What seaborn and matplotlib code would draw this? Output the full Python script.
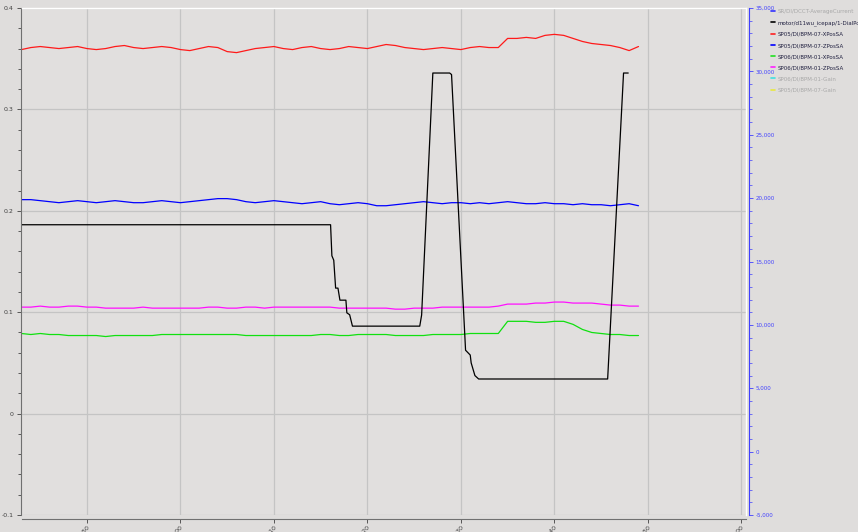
import numpy as np
import matplotlib
matplotlib.use("Agg")
import matplotlib.pyplot as plt
import seaborn as sns
from matplotlib.lines import Line2D
from matplotlib.ticker import MultipleLocator, FuncFormatter

sns.set_style("ticks")
plt.rcParams['font.family'] = ['DejaVu Sans']

# --- data ---
# BPM signals, one sample per second (seconds from the first tick)
t = np.arange(-7, 60)

bpm07_x = [0.359, 0.361, 0.362, 0.361, 0.360, 0.361, 0.362,
           0.360, 0.359, 0.360, 0.362, 0.363, 0.361, 0.360, 0.361, 0.362, 0.361,
           0.359, 0.358, 0.360, 0.362, 0.361, 0.357, 0.356, 0.358, 0.360, 0.361,
           0.362, 0.360, 0.359, 0.361, 0.362, 0.360, 0.359, 0.360, 0.362, 0.361,
           0.360, 0.362, 0.364, 0.363, 0.361, 0.360, 0.359, 0.360, 0.361, 0.360,
           0.359, 0.361, 0.362, 0.361, 0.361, 0.370, 0.370, 0.371, 0.370, 0.373,
           0.374, 0.373, 0.370, 0.367, 0.365, 0.364, 0.363, 0.361, 0.358, 0.362]

bpm07_z = [0.211, 0.211, 0.210, 0.209, 0.208, 0.209, 0.210,
           0.209, 0.208, 0.209, 0.210, 0.209, 0.208, 0.208, 0.209, 0.210, 0.209,
           0.208, 0.209, 0.210, 0.211, 0.212, 0.212, 0.211, 0.209, 0.208, 0.209,
           0.210, 0.209, 0.208, 0.207, 0.208, 0.209, 0.207, 0.206, 0.207, 0.208,
           0.207, 0.205, 0.205, 0.206, 0.207, 0.208, 0.209, 0.208, 0.207, 0.208,
           0.208, 0.207, 0.208, 0.207, 0.208, 0.209, 0.208, 0.207, 0.207, 0.208,
           0.207, 0.207, 0.206, 0.207, 0.206, 0.206, 0.205, 0.206, 0.207, 0.205]

bpm01_x = [0.079, 0.078, 0.079, 0.078, 0.078, 0.077, 0.077,
           0.077, 0.077, 0.076, 0.077, 0.077, 0.077, 0.077, 0.077, 0.078, 0.078,
           0.078, 0.078, 0.078, 0.078, 0.078, 0.078, 0.078, 0.077, 0.077, 0.077,
           0.077, 0.077, 0.077, 0.077, 0.077, 0.078, 0.078, 0.077, 0.077, 0.078,
           0.078, 0.078, 0.078, 0.077, 0.077, 0.077, 0.077, 0.078, 0.078, 0.078,
           0.078, 0.079, 0.079, 0.079, 0.079, 0.091, 0.091, 0.091, 0.090, 0.090,
           0.091, 0.091, 0.088, 0.083, 0.080, 0.079, 0.078, 0.078, 0.077, 0.077]

bpm01_z = [0.105, 0.105, 0.106, 0.105, 0.105, 0.106, 0.106,
           0.105, 0.105, 0.104, 0.104, 0.104, 0.104, 0.105, 0.104, 0.104, 0.104,
           0.104, 0.104, 0.104, 0.105, 0.105, 0.104, 0.104, 0.105, 0.105, 0.104,
           0.105, 0.105, 0.105, 0.105, 0.105, 0.105, 0.105, 0.104, 0.104, 0.104,
           0.104, 0.104, 0.104, 0.103, 0.103, 0.104, 0.104, 0.104, 0.105, 0.105,
           0.105, 0.105, 0.105, 0.105, 0.106, 0.108, 0.108, 0.108, 0.109, 0.109,
           0.110, 0.110, 0.109, 0.109, 0.109, 0.108, 0.107, 0.107, 0.106, 0.106]

# motor position (right axis), breakpoints
motor_t = [-7, 26.06, 26.2, 26.4, 26.6, 26.85, 27.06, 27.7, 27.8, 28.1, 28.4,
           35.6, 35.8, 37.0, 38.8, 39.0, 40.5, 41.0, 41.1, 41.5, 41.9,
           55.7, 57.4, 57.9]
motor_pos = [17900, 17900, 15450, 15100, 12900, 12900, 11950, 11950, 10950, 10800, 9900,
             9900, 10780, 29870, 29870, 29750, 8000, 7620, 7000, 6000, 5730,
             5730, 29870, 29870]

x_ticks = [0, 10, 20, 30, 40, 50, 60, 70]
x_labels = ["14:22:50", "14:23:00", "14:23:10", "14:23:20",
            "14:23:30", "14:23:40", "14:23:50", "14:24:00"]

legend_names = ["SR/DI/DCCT-AverageCurrent", "motor/d11wu_icepap/1-DialPos",
                "SP05/DI/BPM-07-XPosSA", "SP05/DI/BPM-07-ZPosSA",
                "SP06/DI/BPM-01-XPosSA", "SP06/DI/BPM-01-ZPosSA",
                "SP06/DI/BPM-01-Gain", "SP05/DI/BPM-07-Gain"]
legend_colors = ["#3030ff", "#000000", "#ff2020", "#0000ff",
                 "#20e020", "#ff20ff", "#40e0e0", "#e8e840"]
legend_active = [False, True, True, True, True, True, False, False]

# --- figure ---
bg = "#dfdddc"
fig = plt.figure(figsize=(8.58, 5.32), dpi=100, facecolor=bg)
W, H = 858, 532
ax = fig.add_axes([22 / W, (H - 515) / H, (746 - 22) / W, (515 - 8) / H])
ax.set_facecolor("#e1dfde")

lw = 0.9
sns.lineplot(x=t, y=bpm07_x, ax=ax, color="#ff1a1a", linewidth=lw)
sns.lineplot(x=t, y=bpm07_z, ax=ax, color="#0000ff", linewidth=lw)
sns.lineplot(x=t, y=bpm01_z, ax=ax, color="#ff10ff", linewidth=lw)
sns.lineplot(x=t, y=bpm01_x, ax=ax, color="#10e010", linewidth=lw)

ax2 = ax.twinx()
sns.lineplot(x=motor_t, y=motor_pos, ax=ax2, color="black", linewidth=lw, estimator=None)
ax2.xaxis.set_visible(False)

# spines first (moving a spine resets its ticks)
for s in ["top", "right"]:
    ax.spines[s].set_color("white")
    ax.spines[s].set_linewidth(1.0)
ax.spines["left"].set_color("#707070")
ax.spines["bottom"].set_color("#707070")
ax.spines["bottom"].set_position(("outward", 3))
ax.spines["left"].set_position(("outward", 1))
ax2.spines["right"].set_color("#4040ff")
ax2.spines["right"].set_position(("outward", 2))
for s in ["top", "left", "bottom"]:
    ax2.spines[s].set_visible(False)

# left axis
ax.set_xlim(-6.95, 70.5)
ax.set_ylim(-0.1, 0.4)
ax.yaxis.set_major_locator(MultipleLocator(0.1))
ax.yaxis.set_minor_locator(MultipleLocator(0.02))
ax.yaxis.set_major_formatter(FuncFormatter(lambda v, p: "0" if abs(v) < 1e-9 else f"{v:.1f}"))
ax.tick_params(axis="y", labelsize=4.5, colors="#404040", length=3, width=0.6, pad=2)
ax.tick_params(axis="y", which="minor", length=2, width=0.5)
ax.grid(True, color="#c4c4c4", linewidth=0.9)
ax.set_axisbelow(True)
ax.set_xlabel("")
ax.set_ylabel("")

# time axis, labels mostly cut off by the figure edge as in the original
ax.tick_params(axis="x", length=3, width=0.6, colors="#404040", pad=0.5,
               labelsize=4.5, labelrotation=45)
ax.set_xticks(x_ticks)
ax.set_xticklabels(x_labels, rotation=45, ha="right", va="top",
                   rotation_mode="anchor", fontsize=4.5, color="#404040")

# right axis
ax2.set_ylim(-5000, 35000)
ax2.yaxis.set_major_locator(MultipleLocator(5000))
ax2.yaxis.set_minor_locator(MultipleLocator(1000))
ax2.yaxis.set_major_formatter(FuncFormatter(lambda v, p: f"{int(v):,}"))
ax2.tick_params(axis="y", labelsize=4.0, colors="#4040ff", length=3, width=0.6, pad=2)
ax2.tick_params(axis="y", which="minor", length=2, width=0.5, colors="#4040ff")
ax2.set_ylabel("")
ax2.grid(False)

handles = [Line2D([], [], color=c, linewidth=1.2) for c in legend_colors]
leg = fig.legend(handles, legend_names, loc="upper left",
                 bbox_to_anchor=(771 / W, 1 - 9 / H), frameon=False,
                 fontsize=4.0, handlelength=0.75, handletextpad=0.5,
                 labelspacing=1.1, borderaxespad=0, borderpad=0)
for txt, active in zip(leg.get_texts(), legend_active):
    txt.set_color("#202040" if active else "#a8a8a8")

fig.savefig("out.png", dpi=100, facecolor=bg)
